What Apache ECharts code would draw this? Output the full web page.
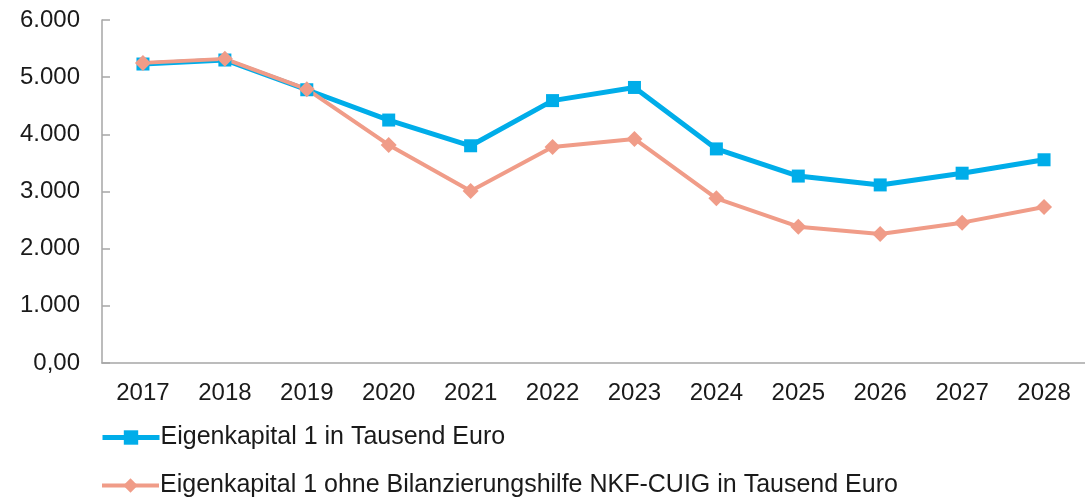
<!DOCTYPE html>
<html>
<head>
<meta charset="utf-8">
<script src="https://cdn.jsdelivr.net/npm/echarts@6/dist/echarts.min.js"></script>
<style>
  html, body { margin: 0; padding: 0; background: #fff; }
  #chart { width: 1085px; height: 497px; }
</style>
</head>
<body>
<div id="chart"></div>
<script>
const years = ['2017', '2018', '2019', '2020', '2021', '2022', '2023', '2024', '2025', '2026', '2027', '2028']
const eigenkapital = [5230, 5300, 4780, 4250, 3800, 4590, 4820, 3745, 3270, 3115, 3320, 3555]
const ohneBilanzhilfe = [5250, 5320, 4790, 3815, 3010, 3780, 3920, 2880, 2385, 2255, 2455, 2730]
const seriesNames = [
  'Eigenkapital 1 in Tausend Euro',
  'Eigenkapital 1 ohne Bilanzierungshilfe NKF-CUIG in Tausend Euro'
]

const font = 'Liberation Sans, Arial, sans-serif'
const blue = '#00ade9'
const salmon = '#f09c88'
const chart = echarts.init(document.getElementById('chart'))

// eine Legende pro Zeile
function legendRow(name, top, color, width) {
  return {
    left: 95,
    top: top,
    itemWidth: 57,
    itemHeight: 18,
    lineStyle: { width: width, color: color },
    textStyle: { fontFamily: font, fontSize: 25, color: '#1a1a1a', padding: [0, 0, 0, -4] },
    data: [name]
  }
}

chart.setOption({
  animation: false,
  grid: { left: 102, right: 0, top: 20, bottom: 134, containLabel: false },
  legend: [
    legendRow(seriesNames[0], 420, blue, 5),
    legendRow(seriesNames[1], 468, salmon, 4)
  ],
  xAxis: {
    type: 'category',
    data: years,
    axisLine: { lineStyle: { color: '#a6a6a6', width: 1.5 } },
    axisTick: { inside: true, length: 8, lineStyle: { color: '#a6a6a6', width: 1.5 } },
    axisLabel: { fontFamily: font, fontSize: 24, color: '#1a1a1a', margin: 18 }
  },
  yAxis: {
    type: 'value',
    min: 0,
    max: 6000,
    interval: 1000,
    splitLine: { show: false },
    axisLine: { show: true, lineStyle: { color: '#a6a6a6', width: 1.5 } },
    axisTick: { show: true, inside: true, length: 8, lineStyle: { color: '#a6a6a6', width: 1.5 } },
    axisLabel: {
      fontFamily: font, fontSize: 24, color: '#1a1a1a', margin: 22,
      formatter: function (v) { return v === 0 ? '0,00' : (v / 1000).toFixed(3) }
    }
  },
  series: [
    {
      name: seriesNames[0],
      type: 'line',
      data: eigenkapital,
      symbol: 'rect',
      symbolSize: 13,
      itemStyle: { color: blue },
      lineStyle: { color: blue, width: 5 }
    },
    {
      name: seriesNames[1],
      type: 'line',
      data: ohneBilanzhilfe,
      symbol: 'diamond',
      symbolSize: 16,
      itemStyle: { color: salmon },
      lineStyle: { color: salmon, width: 4 }
    }
  ]
})
</script>
</body>
</html>
